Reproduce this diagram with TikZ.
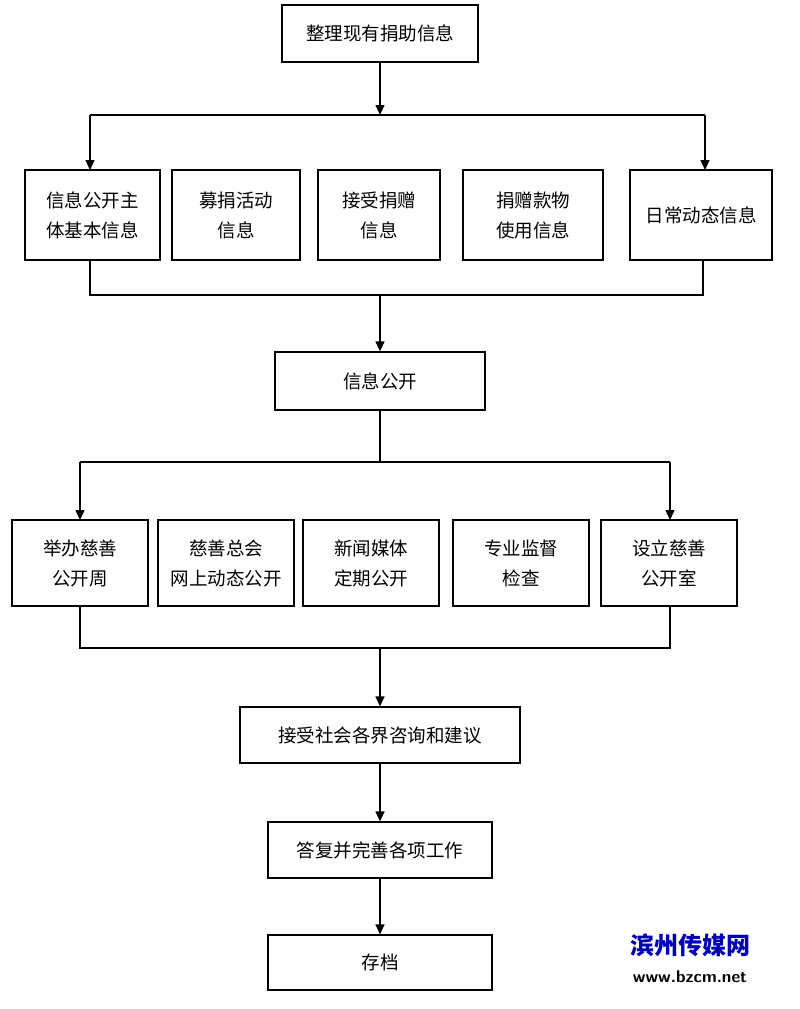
\documentclass[tikz,border=0pt]{standalone}
\usepackage{fontspec}
\newfontfamily\cjk{Noto Sans CJK SC}
\usetikzlibrary{arrows.meta}
\begin{document}
\begin{tikzpicture}[x=1pt,y=-1pt,
 box/.style={draw,line width=1.3pt,align=center,font=\cjk\fontsize{18.5}{30}\selectfont,inner sep=0pt},
 ln/.style={line width=1.3pt},
 ar/.style={line width=1.3pt,-{Triangle[length=10pt,width=9pt]}}]
\useasboundingbox (0,0) rectangle (800,1009);
\newcommand\bx[6]{\node[box,minimum width=#4-#2,minimum height=#5-#3] (#1) at ({(#2+#4)/2},{(#3+#5)/2}) {#6};}
\bx{t}{282}{5}{478}{62}{整理现有捐助信息}
\bx{a1}{25}{170}{160}{260}{信息公开主\\体基本信息}
\bx{a2}{172}{170}{300}{260}{募捐活动\\信息}
\bx{a3}{318}{170}{440}{260}{接受捐赠\\信息}
\bx{a4}{463}{170}{603}{260}{捐赠款物\\使用信息}
\bx{a5}{630}{170}{772}{260}{日常动态信息}
\bx{m}{275}{352}{485}{410}{信息公开}
\bx{b1}{12}{520}{148}{606}{举办慈善\\公开周}
\bx{b2}{158}{520}{294}{606}{慈善总会\\网上动态公开}
\bx{b3}{303}{520}{439}{606}{新闻媒体\\定期公开}
\bx{b4}{453}{520}{589}{606}{专业监督\\检查}
\bx{b5}{601}{520}{737}{606}{设立慈善\\公开室}
\bx{c}{240}{707}{520}{763}{接受社会各界咨询和建议}
\bx{d}{268}{822}{492}{878}{答复并完善各项工作}
\bx{e}{268}{935}{492}{990}{存档}
\coordinate (j1) at (380,115); \coordinate (l1) at (90,115); \coordinate (r1) at (705,115);
\draw[ar] (t.south) -- (j1);
\draw[ln] (l1) -- (r1);
\draw[ar] (l1) -- (90,170);
\draw[ar] (r1) -- (705,170);
\coordinate (j2) at (380,295);
\draw[ln] (90,260) -- (90,295) -- (703,295) -- (703,260);
\draw[ar] (j2) -- (m.north);
\coordinate (j3) at (380,462);
\draw[ln] (m.south) -- (j3);
\draw[ln] (80,462) -- (670,462);
\draw[ar] (80,462) -- (80,520);
\draw[ar] (670,462) -- (670,520);
\draw[ln] (80,606) -- (80,648) -- (670,648) -- (670,606);
\draw[ar] (380,648) -- (c.north);
\draw[ar] (c.south) -- (d.north);
\draw[ar] (d.south) -- (e.north);
\node[font=\cjk\bfseries\fontsize{24}{24}\selectfont,text=blue!70!black] (w1) at (690,945) {滨州传媒网};
\node[font=\sffamily\bfseries\fontsize{17}{17}\selectfont] (w2) at (690,977) {www.bzcm.net};
\end{tikzpicture}
\end{document}
